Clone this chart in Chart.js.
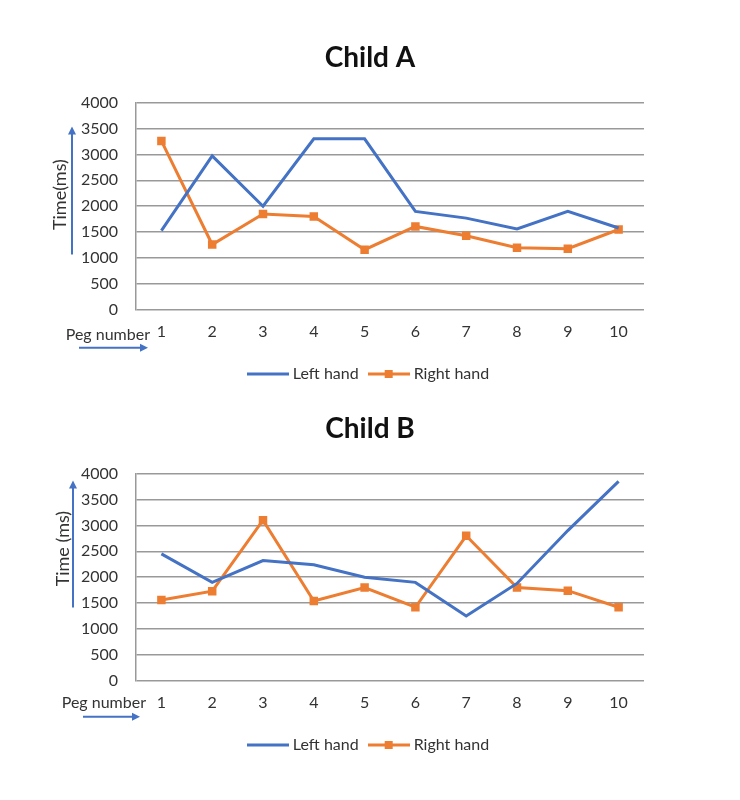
<!DOCTYPE html>
<html><head><meta charset="utf-8">
<script src="https://cdn.jsdelivr.net/npm/chart.js@4.4.0/dist/chart.umd.min.js"></script>
<style>
html,body{margin:0;padding:0;background:#fff;}
.wrap{position:absolute;left:0;width:740px;height:372px;}
</style></head><body>
<div class="wrap" style="top:20px"><canvas id="a"></canvas></div>
<div class="wrap" style="top:391px"><canvas id="b"></canvas></div>
<script>
const pegNumbers = ['1','2','3','4','5','6','7','8','9','10'];
const yTickValues = [0,500,1000,1500,2000,2500,3000,3500,4000];
const childALeft  = [1530, 2970, 2000, 3300, 3300, 1900, 1770, 1560, 1900, 1580];
const childARight = [3260, 1260, 1850, 1800, 1160, 1610, 1430, 1200, 1180, 1550];
const childBLeft  = [2450, 1900, 2320, 2240, 2000, 1900, 1250, 1880, 2900, 3850];
const childBRight = [1560, 1730, 3100, 1540, 1800, 1420, 2800, 1800, 1740, 1420];

const BLUE = '#4472C4', ORANGE = '#ED7D31';
const FONT = 'Lato, "Open Sans", sans-serif';

function legendIcon(color, withSquare){
  const c = document.createElement('canvas');
  c.width = 42; c.height = 10;
  const x = c.getContext('2d');
  x.strokeStyle = color; x.lineWidth = 3;
  x.beginPath(); x.moveTo(0,5); x.lineTo(42,5); x.stroke();
  if (withSquare){ x.fillStyle = color; x.fillRect(17,1,8,8); }
  return c;
}
const iconLeft = legendIcon(BLUE,false);
const iconRight = legendIcon(ORANGE,true);

function arrow(ctx, x1, y1, x2, y2){
  const ang = Math.atan2(y2-y1, x2-x1);
  const h = 8;
  ctx.beginPath(); ctx.moveTo(x1,y1);
  ctx.lineTo(x2 - Math.cos(ang)*h*0.8, y2 - Math.sin(ang)*h*0.8); ctx.stroke();
  ctx.beginPath();
  ctx.moveTo(x2,y2);
  ctx.lineTo(x2 - h*Math.cos(ang) + 4*Math.sin(ang), y2 - h*Math.sin(ang) - 4*Math.cos(ang));
  ctx.lineTo(x2 - h*Math.cos(ang) - 4*Math.sin(ang), y2 - h*Math.sin(ang) + 4*Math.cos(ang));
  ctx.closePath(); ctx.fill();
}

const annot = {
  id: 'annot',
  afterDraw(chart, args, o){
    const {ctx, chartArea: ca} = chart;
    ctx.save();
    ctx.strokeStyle = BLUE; ctx.fillStyle = BLUE; ctx.lineWidth = 2;
    arrow(ctx, ca.left + o.yArrowDx, ca.top + o.yArrowFrom, ca.left + o.yArrowDx, ca.top + o.yArrowTo);
    arrow(ctx, ca.left + o.xArrowFrom, ca.bottom + o.xArrowDy, ca.left + o.xArrowTo, ca.bottom + o.xArrowDy);
    ctx.fillStyle = '#333';
    ctx.font = '16px ' + FONT;
    ctx.textAlign = 'right'; ctx.textBaseline = 'middle';
    ctx.fillText('Peg number', ca.left + o.pegDx, ca.bottom + o.pegDy);
    // y-axis title
    ctx.save();
    ctx.translate(ca.left + o.yTitleDx, ca.top + o.yTitleDy);
    ctx.rotate(-Math.PI/2);
    ctx.textAlign = 'center'; ctx.textBaseline = 'middle';
    ctx.font = '18px ' + FONT;
    ctx.fillText(o.yTitle, 0, 0);
    ctx.restore();
    ctx.restore();
  }
};

function makeChart(id, title, left, right, ann){
  return new Chart(document.getElementById(id), {
    type: 'line',
    data: {
      labels: pegNumbers,
      datasets: [
        {label: 'Left hand', data: left, borderColor: BLUE, backgroundColor: BLUE, borderWidth: 3, pointRadius: 0, tension: 0},
        {label: 'Right hand', data: right, borderColor: ORANGE, backgroundColor: ORANGE, borderWidth: 3, pointStyle: 'rect', pointRadius: 6, pointBorderWidth: 0, tension: 0}
      ]
    },
    options: {
      responsive: true, maintainAspectRatio: false, animation: false,
      layout: {padding: {left: 0, right: 0, top: 0, bottom: 0}},
      plugins: {
        title: {display: true, text: title, color: '#111', font: {family: FONT, size: 28, weight: 'bold'}, padding: {top: 21, bottom: 28}},
        legend: {
          position: 'bottom',
          labels: {
            usePointStyle: true, pointStyleWidth: 34, color: '#333', padding: 13,
            font: {family: FONT, size: 16},
            generateLabels(chart){
              return chart.data.datasets.map((d,i)=>({
                text: d.label, pointStyle: i===0 ? iconLeft : iconRight,
                fillStyle: d.borderColor, strokeStyle: d.borderColor, lineWidth: 0,
                fontColor: '#333', datasetIndex: i, hidden: false
              }));
            }
          }
        },
        tooltip: {enabled: false},
        annot: ann
      },
      scales: {
        x: {
          offset: true,
          grid: {display: false, drawTicks: false},
          border: {display: false},
          ticks: {color: '#333', font: {family: FONT, size: 16}, padding: 12}
        },
        y: {
          min: 0, max: 4000,
          afterBuildTicks(s){ s.ticks = yTickValues.map(v=>({value: v})); },
          afterFit(s){ s.width = 136; },
          grid: {color: '#999', lineWidth: 1.5, drawTicks: false},
          border: {display: true, color: '#999', width: 1.5},
          ticks: {color: '#333', font: {family: FONT, size: 16}, padding: 18, callback: v => String(v)}
        },
        yRight: {
          position: 'right', display: true,
          afterFit(s){ s.width = 96; },
          grid: {display: false, drawTicks: false},
          border: {display: false},
          ticks: {display: false}
        }
      }
    },
    plugins: [annot]
  });
}

makeChart('a', 'Child A', childALeft, childARight,
  {yTitle: 'Time(ms)', yTitleDx: -76, yTitleDy: 92, yArrowDx: -64, yArrowFrom: 152, yArrowTo: 24, xArrowFrom: -57, xArrowTo: 12, xArrowDy: 38, pegDx: 14, pegDy: 25});
makeChart('b', 'Child B', childBLeft, childBRight,
  {yTitle: 'Time (ms)', yTitleDx: -73, yTitleDy: 75, yArrowDx: -63, yArrowFrom: 134, yArrowTo: 7, xArrowFrom: -53, xArrowTo: 4, xArrowDy: 36, pegDx: 10, pegDy: 22});
</script>
</body></html>
